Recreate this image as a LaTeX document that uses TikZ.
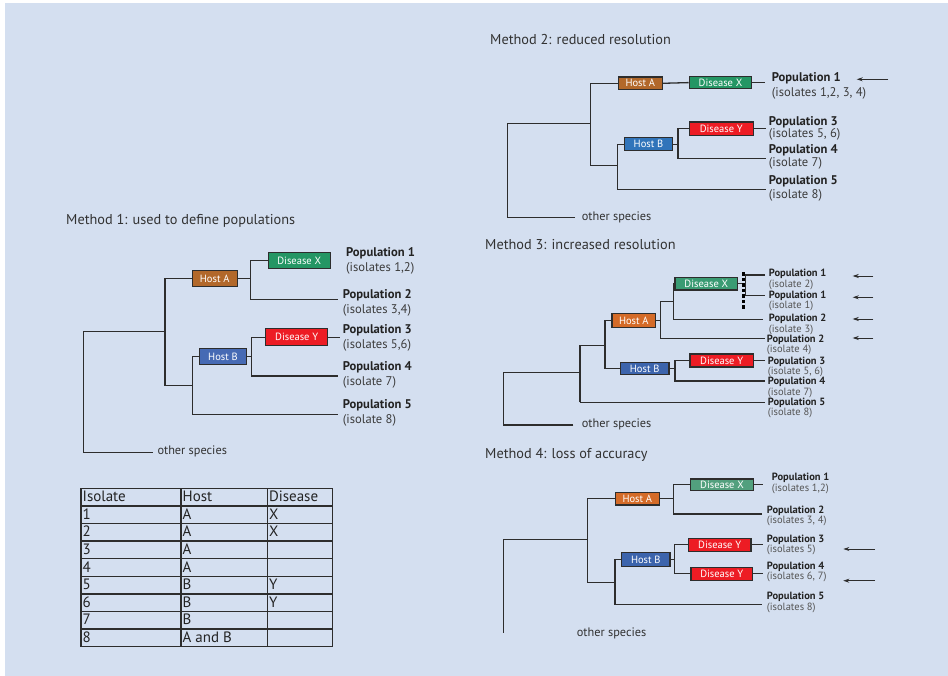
\documentclass[tikz,border=0pt]{standalone}
\usepackage{fontspec}
\setmainfont{PT Sans}
\usetikzlibrary{arrows.meta}
\definecolor{bg}{RGB}{212,223,240}
\definecolor{ln}{RGB}{45,45,45}
\definecolor{txt}{RGB}{50,50,50}
\definecolor{popc}{RGB}{35,35,35}
\definecolor{subc}{RGB}{60,60,60}
\definecolor{subl}{RGB}{85,85,85}
\definecolor{hostAa}{RGB}{178,104,42}
\definecolor{hostAb}{RGB}{212,107,40}
\definecolor{disXa}{RGB}{36,150,100}
\definecolor{disXb}{RGB}{58,155,115}
\definecolor{disXc}{RGB}{82,160,126}
\definecolor{hostBa}{RGB}{70,106,180}
\definecolor{hostBb}{RGB}{48,116,186}
\definecolor{hostBc}{RGB}{60,100,172}
\definecolor{disY}{RGB}{237,28,36}
\newcommand\poplab[2]{\textbf{#1}\\\textcolor{subc}{#2}}
\newcommand\poplabl[2]{\textbf{#1}\\\textcolor{subl}{#2}}
\begin{document}
\begin{tikzpicture}[x=1pt,y=-1pt,
  branch/.style={draw=ln, line width=1.3pt},
  box/.style={draw=ln, line width=1.2pt, text=white, inner sep=0pt, font=\fontsize{10.5}{11}\selectfont},
  bsz/.style 2 args={minimum width=#1pt, minimum height=#2pt},
  title/.style={anchor=west, inner sep=0pt, text=txt, font=\fontsize{14.3}{16}\selectfont},
  other/.style={anchor=west, inner sep=0pt, text=txt, font=\fontsize{12.3}{14}\selectfont},
  pop/.style={anchor=west, align=left, inner sep=0pt, text=popc},
  bigpop/.style={pop, font=\fontsize{12.6}{15}\selectfont},
  midpop/.style={pop, font=\fontsize{12.6}{12.6}\selectfont},
  smallpop/.style={pop, font=\fontsize{10.5}{10.5}\selectfont},
  pointer/.style={draw=ln, line width=0.9pt, -{Stealth[length=6pt,width=4pt]}},
  dashline/.style={draw=black, line width=2.8pt, dash pattern=on 3.5pt off 2pt},
  grid/.style={draw=ln, line width=1.3pt},
  cell/.style={anchor=base west, inner sep=0pt, text=popc, font=\fontsize{15}{17}\selectfont}
]
\useasboundingbox (0,0) rectangle (948,676);
\fill[white] (0,0) rectangle (948,676);
\fill[bg] (5,3) rectangle (948,676);

% ================= Method 1 =================
\node[title] (m1t) at (66,220.7) {Method 1: used to define populations};
\node[box, fill=hostAa, bsz={45}{16.4}] (m1ha) at (214.7,278.7) {Host A};
\node[box, fill=disXa, bsz={62}{16.6}] (m1dx) at (299.2,260.5) {Disease X};
\node[box, fill=hostBa, bsz={47.4}{15.6}] (m1hb) at (223,356.6) {Host B};
\node[box, fill=disY, bsz={62}{16.6}] (m1dy) at (296.7,337.2) {Disease Y};
\node[bigpop] (m1p1) at (346,260.8) {\poplab{Population 1}{(isolates 1,2)}};
\node[bigpop] (m1p2) at (342.7,302.5) {\poplab{Population 2}{(isolates 3,4)}};
\node[bigpop] (m1p3) at (342.7,337.8) {\poplab{Population 3}{(isolates 5,6)}};
\node[bigpop] (m1p4) at (342.7,374.7) {\poplab{Population 4}{(isolate 7)}};
\node[bigpop] (m1p5) at (342.7,412.5) {\poplab{Population 5}{(isolate 8)}};
\node[other] (m1os) at (157.3,451.5) {other species};
\coordinate (m1oe) at (152.7,452.7);
\coordinate (m1j0) at (83.3,331.7);
\coordinate (m1j1) at (165,331.7);
\coordinate (m1v) at (165,385.3);
\coordinate (m1k) at (192.7,385.3);
\coordinate (m1k5) at (192.7,414.3);
\coordinate (m1p5e) at (338.3,414.3);
\coordinate (m1j2) at (250.7,278.7);
\coordinate (m1j2b) at (250.7,299.3);
\coordinate (m1p2e) at (338.3,299.3);
\coordinate (m1j3) at (251.7,356.6);
\coordinate (m1j3b) at (251.7,376);
\coordinate (m1p4e) at (338.3,376);
\coordinate (m1p3e) at (340,337.2);
\draw[branch] (m1oe) -| (m1j0) -- (m1j1);
\draw[branch] (m1ha.west) -| (m1v) -- (m1k);
\draw[branch] (m1hb.west) -| (m1k5) -- (m1p5e);
\draw[branch] (m1ha.east) -- (m1j2);
\draw[branch] (m1dx.west) -| (m1j2b) -- (m1p2e);
\draw[branch] (m1hb.east) -- (m1j3);
\draw[branch] (m1dy.west) -| (m1j3b) -- (m1p4e);
\draw[branch] (m1dy.east) -- (m1p3e);

% ================= Table =================
\foreach \yy in {488.3,505.9,523.5,541.1,558.7,576.3,593.9,611.5,629.1,646.7}
  \draw[grid] (81,\yy) -- (332.7,\yy);
\foreach \xx in {81,181,267.3,332.7}
  \draw[grid] (\xx,488.3) -- (\xx,646.7);
\node[cell] (t00) at (82.5,501.6) {Isolate};
\node[cell] (t01) at (182.5,501.6) {Host};
\node[cell] (t02) at (268.8,501.6) {Disease};
\node[cell] (t10) at (82.5,519.2) {1};
\node[cell] (t11) at (182.5,519.2) {A};
\node[cell] (t12) at (268.8,519.2) {X};
\node[cell] (t20) at (82.5,536.8) {2};
\node[cell] (t21) at (182.5,536.8) {A};
\node[cell] (t22) at (268.8,536.8) {X};
\node[cell] (t30) at (82.5,554.4) {3};
\node[cell] (t31) at (182.5,554.4) {A};
\node[cell] (t40) at (82.5,572) {4};
\node[cell] (t41) at (182.5,572) {A};
\node[cell] (t50) at (82.5,589.6) {5};
\node[cell] (t51) at (182.5,589.6) {B};
\node[cell] (t52) at (268.8,589.6) {Y};
\node[cell] (t60) at (82.5,607.2) {6};
\node[cell] (t61) at (182.5,607.2) {B};
\node[cell] (t62) at (268.8,607.2) {Y};
\node[cell] (t70) at (82.5,624.8) {7};
\node[cell] (t71) at (182.5,624.8) {B};
\node[cell] (t80) at (82.5,642.4) {8};
\node[cell] (t81) at (182.5,642.4) {A and B};

% ================= Method 2 =================
\node[title] (m2t) at (490,39) {Method 2: reduced resolution};
\node[box, fill=hostAa, bsz={44}{12.6}] (m2ha) at (640.3,83.3) {Host A};
\node[box, fill=disXa, bsz={62.4}{12.4}] (m2dx) at (720.5,82.6) {Disease X};
\node[box, fill=hostBb, bsz={48.4}{13.4}] (m2hb) at (648.5,144.2) {Host B};
\node[box, fill=disY, bsz={64}{13.6}] (m2dy) at (721.3,128.8) {Disease Y};
\node[midpop, font=\fontsize{12.6}{15}\selectfont] (m2p1) at (771.7,85.8) {\poplab{Population 1}{(isolates 1,2, 3, 4)}};
\node[midpop] (m2p3) at (768.7,128.3) {\poplab{Population 3}{(isolates 5, 6)}};
\node[midpop] (m2p4) at (768.7,157.2) {\poplab{Population 4}{(isolate 7)}};
\node[midpop, font=\fontsize{12.6}{13.3}\selectfont] (m2p5) at (768.7,188.3) {\poplab{Population 5}{(isolate 8)}};
\node[other] (m2os) at (581.7,217) {other species};
\coordinate (m2oe) at (575,217.7);
\coordinate (m2j0) at (507.3,123.7);
\coordinate (m2j1) at (590.3,123.7);
\coordinate (m2v) at (590.3,165.7);
\coordinate (m2k) at (617.7,165.7);
\coordinate (m2k5) at (617.7,189.3);
\coordinate (m2p5e) at (766,189.3);
\coordinate (m2p1e) at (765,82.6);
\coordinate (m2j3) at (678,144.2);
\coordinate (m2j3b) at (678,158.3);
\coordinate (m2p4e) at (766,158.3);
\coordinate (m2p3e) at (766,128.8);
\coordinate (m2a1s) at (888.3,79.3);
\coordinate (m2a1e) at (856.7,79.3);
\draw[branch] (m2oe) -| (m2j0) -- (m2j1);
\draw[branch] (m2ha.west) -| (m2v) -- (m2k);
\draw[branch] (m2hb.west) -| (m2k5) -- (m2p5e);
\draw[branch] (m2ha.east) -- (m2dx.west);
\draw[branch] (m2dx.east) -- (m2p1e);
\draw[branch] (m2hb.east) -- (m2j3);
\draw[branch] (m2dy.west) -| (m2j3b) -- (m2p4e);
\draw[branch] (m2dy.east) -- (m2p3e);
\draw[pointer] (m2a1s) -- (m2a1e);

% ================= Method 3 =================
\node[title] (m3t) at (485,245) {Method 3: increased resolution};
\node[box, fill=hostAb, bsz={43.7}{13.4}] (m3ha) at (633.8,320.5) {Host A};
\node[box, fill=disXb, bsz={62.7}{12.7}] (m3dx) at (706.3,283.7) {Disease X};
\node[box, fill=hostBc, bsz={48.7}{12.4}] (m3hb) at (644.7,368.6) {Host B};
\node[box, fill=disY, bsz={63.3}{13}] (m3dy) at (721.7,360.5) {Disease Y};
\node[smallpop] (m3p1a) at (768.7,279.3) {\poplabl{Population 1}{(isolate 2)}};
\node[smallpop] (m3p1b) at (768.7,300.7) {\poplabl{Population 1}{(isolate 1)}};
\node[smallpop] (m3p2a) at (768.7,324.2) {\poplabl{Population 2}{(isolate 3)}};
\node[smallpop] (m3p2b) at (766.7,344.7) {\poplabl{Population 2}{(isolate 4)}};
\node[smallpop] (m3p3) at (767.7,366.7) {\poplabl{Population 3}{(isolate 5, 6)}};
\node[smallpop] (m3p4) at (767.7,387.2) {\poplabl{Population 4}{(isolate 7)}};
\node[smallpop] (m3p5) at (767.7,407.8) {\poplabl{Population 5}{(isolate 8)}};
\node[other] (m3os) at (581.7,424.3) {other species};
\coordinate (m3oe) at (573.3,425);
\coordinate (m3j0) at (503.3,372.7);
\coordinate (m3j1) at (580,372.7);
\coordinate (m3jt) at (580,345.7);
\coordinate (m3jtr) at (605,345.7);
\coordinate (m3jb) at (580,402.3);
\coordinate (m3p5e) at (765,402.3);
\coordinate (m3v) at (605,368.6);
\coordinate (m3j2) at (660.3,320.5);
\coordinate (m3j2t) at (660.3,301.7);
\coordinate (m3j2tr) at (673.3,301.7);
\coordinate (m3j2b) at (660.3,338.3);
\coordinate (m3p2be) at (765,338.3);
\coordinate (m3k) at (673.3,319.3);
\coordinate (m3p2ae) at (763.3,319.3);
\coordinate (m3dxe) at (744,283.7);
\coordinate (m3d1) at (743.3,272.3);
\coordinate (m3d2) at (743.3,309.3);
\coordinate (m3b2) at (745.5,295.7);
\coordinate (m3p1ae) at (765,275);
\coordinate (m3p1be) at (765,295.7);
\coordinate (m3j3) at (675,368.6);
\coordinate (m3j3b) at (675,381);
\coordinate (m3p4e) at (765,381);
\coordinate (m3p3e) at (765,360.5);
\draw[branch] (m3oe) -| (m3j0) -- (m3j1);
\draw[branch] (m3jb) -- (m3jt) -- (m3jtr);
\draw[branch] (m3jb) -- (m3p5e);
\draw[branch] (m3ha.west) -| (m3v) -- (m3hb.west);
\draw[branch] (m3ha.east) -- (m3j2);
\draw[branch] (m3j2t) -- (m3j2b) -- (m3p2be);
\draw[branch] (m3j2t) -- (m3j2tr);
\draw[branch] (m3dx.west) -| (m3k) -- (m3p2ae);
\draw[branch] (m3dx.east) -- (m3dxe);
\draw[branch] (m3p1ae) -| (m3b2) -- (m3p1be);
\draw[dashline] (m3d1) -- (m3d2);
\draw[branch] (m3hb.east) -- (m3j3);
\draw[branch] (m3dy.west) -| (m3j3b) -- (m3p4e);
\draw[branch] (m3dy.east) -- (m3p3e);
\coordinate (m3a1s) at (873.3,276);   \coordinate (m3a1e) at (852.7,276);
\coordinate (m3a2s) at (873.3,297.3); \coordinate (m3a2e) at (852.7,297.3);
\coordinate (m3a3s) at (873.3,319);   \coordinate (m3a3e) at (852.7,319);
\coordinate (m3a4s) at (873.3,338);   \coordinate (m3a4e) at (852.7,338);
\draw[pointer] (m3a1s) -- (m3a1e);
\draw[pointer] (m3a2s) -- (m3a2e);
\draw[pointer] (m3a3s) -- (m3a3e);
\draw[pointer] (m3a4s) -- (m3a4e);

% ================= Method 4 =================
\node[title] (m4t) at (485,455) {Method 4: loss of accuracy};
\node[box, fill=hostAb, bsz={44}{12.7}] (m4ha) at (637.3,498.7) {Host A};
\node[box, fill=disXc, bsz={62.6}{11.4}] (m4dx) at (722,484.6) {Disease X};
\node[box, fill=hostBc, bsz={48.3}{13.3}] (m4hb) at (645.8,559.5) {Host B};
\node[box, fill=disY, bsz={62.7}{12.7}] (m4dy1) at (719.7,544.8) {Disease Y};
\node[box, fill=disY, bsz={61.7}{12.7}] (m4dy2) at (721.8,573.8) {Disease Y};
\node[smallpop] (m4p1) at (771.7,483.2) {\poplabl{Population 1}{(isolates 1,2)}};
\node[smallpop] (m4p2) at (766.7,515.7) {\poplabl{Population 2}{(isolates 3, 4)}};
\node[smallpop] (m4p3) at (766.7,544.7) {\poplabl{Population 3}{(isolates 5)}};
\node[smallpop] (m4p4) at (766.7,572) {\poplabl{Population 4}{(isolates 6, 7)}};
\node[smallpop] (m4p5) at (766.7,602.5) {\poplabl{Population 5}{(isolates 8)}};
\node[other] (m4os) at (576.7,633) {other species};
\coordinate (m4r) at (503.3,632.7);
\coordinate (m4j0) at (503.3,539.3);
\coordinate (m4j1) at (587.7,539.3);
\coordinate (m4v) at (587.7,582.7);
\coordinate (m4k) at (615,582.7);
\coordinate (m4k5) at (615,604.3);
\coordinate (m4p5e) at (761.7,604.3);
\coordinate (m4j2) at (673.3,498.7);
\coordinate (m4j2b) at (673.3,514);
\coordinate (m4p2e) at (761.7,514);
\coordinate (m4p1e) at (763.3,484.6);
\coordinate (m4j3) at (674.3,559.5);
\coordinate (m4p3e) at (762.7,544.8);
\coordinate (m4p4e) at (762.7,573.8);
\draw[branch] (m4r) -- (m4j0) -- (m4j1);
\draw[branch] (m4ha.west) -| (m4v) -- (m4k);
\draw[branch] (m4hb.west) -| (m4k5) -- (m4p5e);
\draw[branch] (m4ha.east) -- (m4j2);
\draw[branch] (m4dx.west) -| (m4j2b) -- (m4p2e);
\draw[branch] (m4dx.east) -- (m4p1e);
\draw[branch] (m4hb.east) -- (m4j3);
\draw[branch] (m4dy1.west) -| (m4j3) |- (m4dy2.west);
\draw[branch] (m4dy1.east) -- (m4p3e);
\draw[branch] (m4dy2.east) -- (m4p4e);
\coordinate (m4a1s) at (875,549);   \coordinate (m4a1e) at (843.3,549);
\coordinate (m4a2s) at (875,580.7); \coordinate (m4a2e) at (843.3,580.7);
\draw[pointer] (m4a1s) -- (m4a1e);
\draw[pointer] (m4a2s) -- (m4a2e);
\end{tikzpicture}
\end{document}
